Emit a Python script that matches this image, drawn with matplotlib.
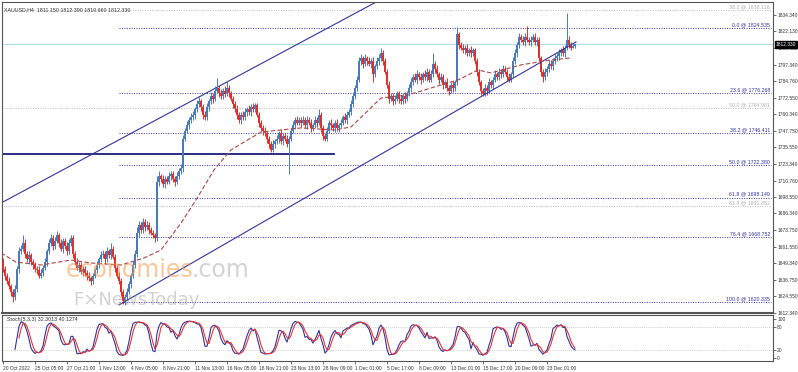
import numpy as np
import pandas as pd
import matplotlib
matplotlib.use("Agg")
import matplotlib.pyplot as plt

W, H = 798, 372
plt.rcParams['font.family'] = ['Liberation Sans', 'DejaVu Sans']

# XAUUSD H4 closes (one per bar)
close = [
    1645, 1640, 1636, 1632, 1628, 1624, 1630, 1645, 1658, 1660,
    1664, 1656, 1652, 1655, 1650, 1648, 1645, 1644, 1640, 1642,
    1646, 1650, 1658, 1664, 1668, 1662, 1666, 1670, 1664, 1660,
    1666, 1662, 1658, 1664, 1668, 1656, 1650, 1646, 1648, 1643,
    1645, 1642, 1640, 1638, 1636, 1640, 1644, 1648, 1652, 1655,
    1656, 1652, 1658, 1655, 1660, 1654, 1646, 1640, 1636, 1628,
    1621, 1624, 1628, 1634, 1640, 1648, 1656, 1672, 1678, 1674,
    1680, 1676, 1678, 1674, 1672, 1670, 1668, 1710, 1714, 1712,
    1708, 1712, 1710, 1714, 1716, 1712, 1710, 1714, 1718, 1720,
    1742, 1748, 1752, 1756, 1758, 1760, 1764, 1768, 1770, 1766,
    1760, 1758, 1766, 1770, 1774, 1772, 1778, 1780, 1776, 1774,
    1778, 1776, 1780, 1776, 1772, 1768, 1764, 1760, 1756, 1760,
    1758, 1762, 1764, 1762, 1766, 1764, 1767, 1760, 1754, 1750,
    1748, 1746, 1742, 1738, 1734, 1738, 1740, 1742, 1746, 1740,
    1744, 1742, 1738, 1742, 1748, 1752, 1756, 1754, 1756, 1754,
    1756, 1752, 1756, 1754, 1750, 1752, 1756, 1754, 1760, 1750,
    1744, 1742, 1748, 1754, 1752, 1750, 1754, 1750, 1752, 1754,
    1758, 1756, 1760, 1762, 1768, 1774, 1780, 1786, 1800, 1802,
    1798, 1802, 1800, 1798, 1800, 1790, 1796, 1800, 1802, 1806,
    1800, 1792, 1782, 1772, 1774, 1770, 1772, 1776, 1772, 1770,
    1774, 1772, 1776, 1780, 1784, 1788, 1786, 1790, 1788, 1786,
    1790, 1788, 1792, 1786, 1790, 1798, 1794, 1790, 1786, 1788,
    1782, 1784, 1780, 1778, 1782, 1780, 1784, 1820, 1812, 1810,
    1808, 1810, 1806, 1808, 1806, 1808, 1800, 1792, 1784, 1778,
    1776, 1780, 1778, 1784, 1782, 1786, 1790, 1788, 1792, 1790,
    1794, 1792, 1788, 1786, 1790, 1800, 1806, 1812, 1818, 1816,
    1814, 1818, 1816, 1814, 1816, 1818, 1814, 1816, 1802, 1792,
    1788, 1792, 1794, 1798, 1796, 1800, 1802, 1804, 1806, 1808,
    1806, 1810, 1816, 1812, 1810, 1811.15, 1812.33,
]
first_open = 1650.0

up_wick = [
    3, 2, 2, 3, 2, 2, 3, 2, 3, 3,  6, 3, 2, 3, 2, 2, 2, 2, 3, 3,
    2, 3, 2, 3, 3, 2, 3, 3, 2, 3,  2, 2, 3, 3, 2, 2, 2, 3, 2, 2,
    2, 2, 2, 3, 2, 2, 2, 3, 2, 3,  3, 2, 3, 2, 4, 2, 2, 2, 3, 2,
    2, 2, 3, 2, 2, 3, 3, 4, 3, 2,  3, 2, 3, 2, 2, 2, 2, 4, 4, 2,
    3, 2, 2, 3, 2, 2, 2, 3, 2, 3,  3, 2, 3, 2, 3, 3, 2, 3, 3, 2,
    2, 3, 3, 2, 3, 2, 3, 7, 2, 3,  2, 3, 5, 2, 2, 2, 2, 3, 2, 2,
    3, 3, 2, 3, 2, 3, 2, 2, 2, 2,  2, 3, 2, 2, 2, 3, 2, 3, 2, 3,
    2, 2, 3, 2, 2, 3, 2, 3, 2, 2,  3, 2, 3, 2, 3, 2, 3, 2, 4, 2,
    2, 2, 3, 2, 3, 2, 2, 3, 2, 3,  2, 3, 3, 2, 3, 3, 2, 3, 3, 3,
    2, 3, 2, 3, 2, 3, 2, 3, 3, 4,  2, 2, 2, 3, 2, 2, 3, 2, 2, 3,
    2, 3, 2, 3, 3, 2, 3, 3, 2, 3,  2, 3, 3, 2, 3, 8, 2, 3, 2, 3,
    2, 2, 3, 2, 2, 3, 2, 5, 2, 2,  3, 2, 3, 2, 3, 2, 2, 2, 2, 2,
    2, 3, 2, 3, 2, 2, 3, 2, 3, 2,  3, 2, 2, 3, 2, 3, 3, 2, 3, 2,
    3, 3, 8, 2, 3, 2, 3, 2, 2, 2,  2, 3, 2, 3, 3, 2, 3, 2, 3, 2,
    3, 2, 20, 3, 2, 1.2, 0.06,
]
down_wick = [
    2, 3, 2, 2, 3, 4, 2, 2, 3, 2,  2, 3, 2, 3, 2, 3, 2, 3, 2, 2,
    2, 2, 3, 2, 2, 3, 2, 2, 3, 2,  3, 2, 3, 2, 2, 3, 2, 2, 3, 2,
    3, 2, 3, 2, 3, 2, 2, 2, 2, 2,  2, 3, 2, 2, 3, 2, 3, 2, 2, 3,
    2, 3, 2, 2, 3, 2, 2, 2, 3, 2,  2, 3, 2, 3, 2, 2, 3, 2, 3, 2,
    2, 3, 2, 2, 3, 2, 3, 2, 2, 2,  3, 2, 2, 3, 2, 2, 3, 2, 2, 3,
    3, 2, 2, 3, 2, 3, 2, 2, 3, 2,  2, 3, 2, 3, 2, 3, 2, 3, 2, 3,
    2, 2, 3, 2, 3, 2, 2, 2, 3, 2,  3, 2, 3, 3, 2, 2, 3, 2, 3, 2,
    3, 2, 2, 22, 2, 2, 3, 2, 2, 3,  2, 2, 3, 2, 3, 2, 2, 3, 2, 3,
    3, 2, 2, 2, 3, 2, 3, 2, 3, 2,  2, 2, 3, 2, 2, 2, 2, 2, 2, 3,
    3, 2, 3, 2, 3, 6, 2, 2, 3, 2,  3, 2, 2, 3, 2, 3, 2, 2, 3, 2,
    2, 3, 2, 2, 3, 2, 2, 3, 2, 3,  2, 2, 3, 2, 2, 2, 3, 2, 3, 2,
    3, 2, 2, 3, 2, 3, 2, 2, 3, 2,  2, 3, 2, 2, 3, 2, 2, 3, 2, 3,
    2, 2, 3, 2, 2, 3, 2, 2, 2, 3,  2, 2, 3, 2, 2, 2, 2, 3, 2, 2,
    2, 3, 2, 2, 3, 2, 2, 3, 2, 3,  4, 2, 3, 2, 2, 3, 2, 2, 3, 2,
    2, 3, 2, 2, 2, 0.5, 1.67,
]

# moving average (dashed) read as vertices: bar index, price
ma_bar = [-1, 6.5, 19, 34, 44, 59, 70.5, 79, 89, 96.5, 105.5, 114, 129, 149,
          165.5, 174, 189, 202.5, 219, 227.5, 237.5, 244, 259, 274, 284]
ma_price = [1656.9, 1650.1, 1647.9, 1651.6, 1649.4, 1647.9, 1653.1, 1659.1,
            1679.2, 1696.4, 1718.8, 1733.7, 1747.1, 1750.1, 1748.6, 1750.8,
            1772.4, 1774.7, 1782.1, 1785.9, 1793.3, 1791.1, 1797.1, 1800.8, 1802.3]

# trend channel and support line (bar index, price)
chan_upper_bar = [-1, 188.5]
chan_upper_price = [1694.1, 1845.5]
chan_lower_bar = [58, 286.5]
chan_lower_price = [1618.1, 1814.2]
support_bar = [-1, 165.5]
support_price = [1730.7, 1730.7]

fib_levels = [1824.535, 1776.268, 1746.411, 1722.380, 1698.149, 1668.752, 1620.335]
fib_labels = ["0.0 @ 1824.535", "23.6 @ 1776.268", "38.2 @ 1746.411", "50.0 @ 1722.380",
              "61.8 @ 1698.149", "76.4 @ 1668.752", "100.0 @ 1620.335"]
fib_start = 58
fib2_levels = [1838.116, 1764.981, 1691.852]
fib2_labels = ["38.2 @ 1838.116", "50.0 @ 1764.981", "61.8 @ 1691.852"]

last_price = 1812.33
price_ticks = [1834.34, 1822.13, 1809.93, 1797.34, 1784.76, 1772.55, 1760.34, 1747.75,
               1735.55, 1723.34, 1710.76, 1698.55, 1686.34, 1673.75, 1661.55, 1649.34,
               1636.75, 1624.55, 1612.34]

date_bars = [0, 16, 32, 48, 64, 80, 96, 112, 128, 144, 160, 176, 192, 208, 224, 240, 256, 272]
date_labels = ["20 Oct 2022", "25 Oct 05:00", "27 Oct 21:00", "1 Nov 13:00", "4 Nov 05:00",
               "8 Nov 21:00", "11 Nov 13:00", "16 Nov 05:00", "18 Nov 21:00", "23 Nov 13:00",
               "28 Nov 09:00", "1 Dec 01:00", "5 Dec 17:00", "8 Dec 09:00", "13 Dec 01:00",
               "15 Dec 17:00", "20 Dec 09:00", "23 Dec 01:00"]

BULL = "#4a7ab8"
BEAR = "#e0302c"
NAVY = "#33339a"
FS = 3.8      # chart texts
FS_AX = 3.5   # axis labels

c = np.array(close, dtype=float)
o = np.concatenate([[first_open], c[:-1]])
hi = np.maximum(o, c) + np.array(up_wick)
lo = np.minimum(o, c) - np.array(down_wick)
idx = np.arange(len(c))

# Stochastic 5,3,3
hh = pd.Series(hi).rolling(5).max()
ll = pd.Series(lo).rolling(5).min()
k = 100 * (pd.Series(c) - ll).rolling(3).sum() / (hh - ll).rolling(3).sum()
d = k.rolling(3).mean()

fig = plt.figure(figsize=(W / 100, H / 100), dpi=100)
fig.patch.set_facecolor("white")


def fx(x):
    return x / W


def fy(y):
    return 1 - y / H


ax = fig.add_axes([fx(2), fy(313), fx(771), 311 / H])
ax2 = fig.add_axes([fx(2), fy(361), fx(771), 46 / H])

xlim = (-0.5, 385)
ylim = (1612.1, 1844.0)
ax.set_xlim(*xlim)
ax.set_ylim(*ylim)

# levels and lines
ax.axhline(last_price, color="#b4dede", lw=0.8, zorder=1)
for lv, lab in zip(fib2_levels, fib2_labels):
    ax.hlines(lv, -1, 384, colors="#b8b8b8", lw=0.7, linestyles=(0, (1, 1.5)), zorder=1)
    ax.text(383.5, lv + 0.6, lab, ha="right", va="bottom", fontsize=FS, color="#b0b0b0")
for lv, lab in zip(fib_levels, fib_labels):
    ax.hlines(lv, fib_start, 384, colors=NAVY, lw=0.7, linestyles=(0, (1, 1.5)), zorder=1)
    ax.text(383.5, lv + 0.6, lab, ha="right", va="bottom", fontsize=FS, color=NAVY)

ax.plot(support_bar, support_price, color="#1c1c80", lw=1.3, zorder=2)
ax.plot(chan_upper_bar, chan_upper_price, color=NAVY, lw=0.8, zorder=2)
ax.plot(chan_lower_bar, chan_lower_price, color=NAVY, lw=0.8, zorder=4)
ax.plot(ma_bar, ma_price, color="#a84848", lw=0.8, ls=(0, (4, 2)), zorder=4)

# watermark
ax.text(0.083, 0.115, "economies", transform=ax.transAxes, fontsize=17,
        color="#f59a4a", alpha=0.55, zorder=5, family="DejaVu Sans")
ax.text(0.246, 0.115, ".com", transform=ax.transAxes, fontsize=17,
        color="#b0b0b0", alpha=0.55, zorder=5, family="DejaVu Sans")
ax.text(0.092, 0.025, "F\u00d7NewsToday", transform=ax.transAxes, fontsize=13,
        color="#9a9a9a", alpha=0.45, zorder=5, family="DejaVu Sans")

# candles
cols = np.where(c >= o, BULL, BEAR)
ax.vlines(idx, lo, hi, colors=cols, lw=0.7, zorder=3)
body = np.abs(c - o)
body = np.where(body < 0.4, 0.4, body)
ax.bar(idx, body, bottom=np.minimum(o, c), width=0.75, color=cols, lw=0, zorder=3)

ax.yaxis.tick_right()
ax.set_yticks(price_ticks)
ax.set_yticklabels([f"{p:.3f}" for p in price_ticks])
ax.tick_params(axis="y", labelsize=FS_AX, length=2, width=0.5, pad=1, colors="#333333")
ax.set_xticks([])
for s in ax.spines.values():
    s.set_color("#555555")
    s.set_linewidth(0.8)
ax.spines["bottom"].set_linewidth(1.5)

# current price box
ax.text(1.004, (last_price - ylim[0]) / (ylim[1] - ylim[0]), f"{last_price:.3f}",
        transform=ax.transAxes, ha="left", va="center", fontsize=FS_AX, color="white",
        bbox=dict(boxstyle="square,pad=0.2", fc="black", ec="black"), clip_on=False, zorder=10)

fig.text(fx(4), fy(10), "XAUUSD,H4  1811.150 1812.390 1810.660 1812.330",
         fontsize=FS, color="#333333", va="center")

# stochastic panel
ax2.set_xlim(*xlim)
ax2.set_ylim(-7.7, 110.3)
for lv in (20, 80):
    ax2.axhline(lv, color="#c0c0c0", lw=0.6, ls=(0, (1, 1.5)))
ax2.plot(idx, k, color=NAVY, lw=0.8)
ax2.plot(idx, d, color="#e03838", lw=0.8)
ax2.text(2, 98, "Stoch(5,3,3) 32.3013 40.1274", fontsize=FS, color="#333333", va="center")
ax2.yaxis.tick_right()
ax2.set_yticks([0, 20, 80, 100])
ax2.set_yticklabels(["0", "20", "80", "100"])
ax2.tick_params(axis="y", labelsize=FS_AX, length=2, width=0.5, pad=1, colors="#333333")
ax2.set_xticks(date_bars)
ax2.set_xticklabels(date_labels, ha="left")
ax2.tick_params(axis="x", labelsize=FS_AX, length=2, width=0.5, pad=1.5, colors="#333333")
for s in ax2.spines.values():
    s.set_color("#555555")
    s.set_linewidth(0.8)

fig.savefig("out.png", dpi=100)
